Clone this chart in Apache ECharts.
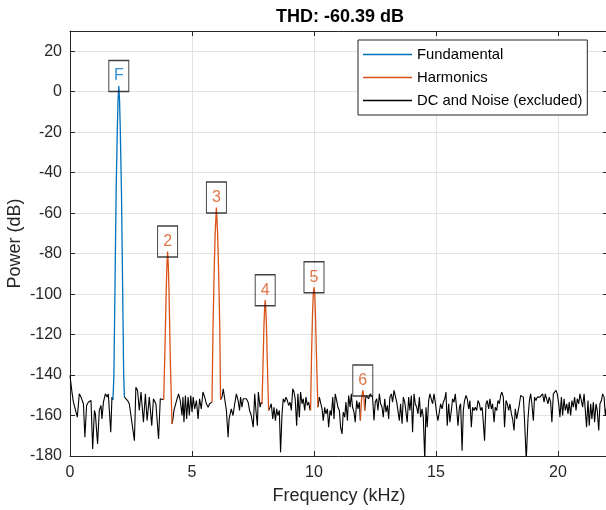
<!DOCTYPE html>
<html>
<head>
<meta charset="utf-8">
<script src="https://cdn.jsdelivr.net/npm/echarts@6/dist/echarts.min.js"></script>
<style>
html,body{margin:0;padding:0;background:#fff;}
#chart{width:606px;height:510px;}
</style>
</head>
<body>
<div id="chart"></div>
<script>
// ---- Data ----
var titleText = 'THD: -60.39 dB';
var xTicks = [0, 5, 10, 15, 20];
var yTicks = [-180, -160, -140, -120, -100, -80, -60, -40, -20, 0, 20];

// Fundamental (kHz, dB)
var fundFreq  = [1.76, 1.80, 1.84, 1.89, 1.94, 1.97, 2.00, 2.03, 2.06, 2.11, 2.16, 2.20, 2.23];
var fundPower = [-152.2, -140, -100, -50, -18, -4, 2.8, -4, -18, -50, -100, -140, -150.9];

// Harmonics 2..6 (null separates the peaks)
var harmFreq = [
  3.84, 3.89, 3.94, 3.97, 4.00, 4.03, 4.06, 4.11, 4.18, null,
  5.82, 5.86, 5.91, 5.95, 6.00, 6.05, 6.09, 6.14, 6.17, null,
  7.87, 7.91, 7.95, 7.98, 8.00, 8.02, 8.05, 8.09, 8.14, null,
  9.86, 9.90, 9.94, 9.97, 10.00, 10.03, 10.06, 10.10, 10.16, null,
  11.90, 11.95, 12.00, 12.04, 12.08
];
var harmPower = [
  -152.2, -128, -100, -86, -79, -86, -100, -132, -164.1, null,
  -153.4, -118, -88, -70, -57.2, -70, -88, -118, -152.2, null,
  -154.2, -135, -115, -106, -103, -106, -115, -135, -157.5, null,
  -157.5, -130, -110, -100, -96.6, -100, -110, -130, -155.9, null,
  -162.5, -152, -147.6, -150, -157.5
];

// DC and noise (null separates the gaps under the peaks)
var noiseFreq = [
  0, 0.08, 0.14, 0.22, 0.30, 0.38, 0.45, 0.49, 0.55, 0.61, 0.68, 0.75, 0.82, 0.86, 0.93, 1.00, 1.04, 1.13, 1.20, 1.27, 1.31, 1.37, 1.45, 1.52, 1.57, 1.67, 1.72, 1.76, null,
  2.23, 2.36, 2.43, 2.64, 2.70, 2.77, 2.84, 2.91, 3.01, 3.09, 3.16, 3.25, 3.35, 3.42, 3.52, 3.63, 3.70, 3.77, 3.84, null,
  4.18, 4.22, 4.26, 4.32, 4.39, 4.45, 4.52, 4.59, 4.63, 4.67, 4.73, 4.78, 4.84, 4.89, 4.95, 5.00, 5.05, 5.11, 5.18, 5.25, 5.31, 5.38, 5.45, 5.52, 5.59, 5.66, 5.72, 5.79, 5.82, null,
  6.17, 6.23, 6.28, 6.34, 6.41, 6.48, 6.52, 6.56, 6.61, 6.68, 6.75, 6.82, 6.89, 6.95, 6.99, 7.05, 7.10, 7.16, 7.23, 7.30, 7.36, 7.43, 7.51, 7.57, 7.62, 7.68, 7.72, 7.79, 7.84, 7.87, null,
  8.14, 8.20, 8.25, 8.31, 8.36, 8.42, 8.47, 8.52, 8.58, 8.63, 8.69, 8.74, 8.80, 8.85, 8.91, 8.96, 9.02, 9.07, 9.13, 9.18, 9.23, 9.29, 9.34, 9.40, 9.45, 9.51, 9.56, 9.62, 9.67, 9.73, 9.78, 9.84, 9.86, null,
  10.16, 10.22, 10.27, 10.33, 10.38, 10.44, 10.49, 10.55, 10.60, 10.66, 10.71, 10.77, 10.82, 10.87, 10.93, 10.98, 11.04, 11.09, 11.15, 11.20, 11.26, 11.31, 11.37, 11.42, 11.48, 11.53, 11.58, 11.64, 11.69, 11.75, 11.80, 11.86, 11.90, null,
  12.08, 12.13, 12.19, 12.24, 12.30, 12.35, 12.40, 12.46, 12.51, 12.57, 12.62, 12.68, 12.73, 12.79, 12.84, 12.90, 12.95, 13.01, 13.06, 13.11, 13.17, 13.22, 13.28, 13.33, 13.39, 13.44, 13.50, 13.55, 13.61, 13.66, 13.72, 13.77, 13.82, 13.88, 13.93, 13.99,
  14.04, 14.10, 14.15, 14.21, 14.26, 14.32, 14.37, 14.43, 14.48, 14.54, 14.59, 14.64, 14.70, 14.75, 14.81, 14.86, 14.92, 14.97, 15.03, 15.08, 15.14, 15.19, 15.25, 15.30, 15.36, 15.41, 15.46, 15.52, 15.57, 15.63, 15.68, 15.74, 15.79, 15.85, 15.90, 15.96,
  16.01, 16.07, 16.12, 16.17, 16.23, 16.28, 16.34, 16.39, 16.45, 16.50, 16.56, 16.61, 16.67, 16.72, 16.78, 16.83, 16.89, 16.94, 16.99, 17.05, 17.10, 17.16, 17.21, 17.27, 17.32, 17.38, 17.43, 17.49, 17.54, 17.60, 17.65, 17.70, 17.76, 17.81, 17.87, 17.92, 17.98,
  18.03, 18.09, 18.14, 18.20, 18.25, 18.31, 18.36, 18.42, 18.47, 18.52, 18.58, 18.63, 18.70, 18.77, 18.83, 18.88, 18.93, 18.99, 19.04, 19.10, 19.15, 19.21, 19.26, 19.32, 19.37, 19.43, 19.48, 19.54, 19.59, 19.64, 19.70, 19.75, 19.81, 19.86, 19.92, 19.97,
  20.03, 20.08, 20.14, 20.19, 20.25, 20.30, 20.36, 20.41, 20.46, 20.52, 20.57, 20.63, 20.68, 20.74, 20.79, 20.85, 20.90, 20.96, 21.01, 21.07, 21.12, 21.17, 21.23, 21.28, 21.34, 21.39, 21.45, 21.50, 21.56, 21.61, 21.67, 21.72, 21.78, 21.83, 21.89, 21.94, 22.00
];
var noisePower = [
  -140.2, -148.4, -153.4, -154.2, -160.8, -149.3, -150.9, -150.1, -154.2, -170.7, -155.0, -153.4, -154.2, -152.6, -176.5, -157.5, -159.2, -174.0, -157.5, -155.0, -161.7, -153.4, -149.3, -150.9, -149.3, -168.3, -150.9, -152.2, null,
  -150.9, -152.6, -154.2, -172.4, -146.0, -147.6, -157.5, -148.4, -163.3, -149.3, -162.5, -150.9, -165.0, -151.7, -154.2, -171.6, -151.7, -152.6, -152.2, null,
  -164.1, -161.7, -157.5, -156.7, -151.7, -149.3, -152.6, -160.0, -150.9, -163.3, -150.1, -161.7, -150.9, -160.0, -150.1, -158.3, -150.9, -156.7, -152.6, -161.7, -151.7, -156.7, -148.4, -150.9, -154.2, -155.9, -154.2, -153.4, -153.4, null,
  -152.2, -150.9, -146.8, -147.6, -157.5, -170.7, -161.7, -162.5, -156.7, -160.0, -154.2, -149.3, -152.6, -157.5, -150.9, -155.9, -151.7, -152.6, -151.7, -153.4, -157.5, -160.0, -165.8, -149.3, -157.5, -165.0, -148.4, -155.9, -153.4, -154.2, null,
  -157.5, -155.9, -154.2, -161.7, -155.9, -162.5, -156.7, -160.0, -157.5, -178.2, -159.2, -151.7, -153.4, -150.9, -152.6, -155.0, -153.4, -157.5, -146.8, -148.4, -151.7, -165.0, -149.3, -160.8, -148.4, -154.2, -151.7, -157.5, -150.9, -155.0, -153.4, -157.5, -157.5, null,
  -155.9, -150.9, -150.1, -156.7, -162.5, -155.9, -159.2, -156.7, -165.8, -157.5, -160.0, -150.9, -161.7, -149.3, -152.6, -155.9, -157.5, -165.8, -169.1, -158.3, -160.8, -153.4, -162.5, -150.1, -155.9, -149.3, -155.9, -158.3, -163.3, -152.6, -156.7, -153.4, -162.5, null,
  -157.5, -150.1, -150.9, -151.7, -149.3, -148.4, -150.9, -162.5, -153.4, -151.7, -157.5, -149.3, -154.2, -155.9, -160.8, -151.7, -158.3, -155.0, -161.7, -150.9, -149.3, -153.4, -147.6, -146.8, -153.4, -152.6, -162.5, -154.2, -164.1, -150.9, -153.4, -154.2, -163.3, -150.9, -157.5, -150.1,
  -168.3, -149.3, -154.2, -155.9, -159.2, -150.9, -160.8, -156.7, -160.8, -182.0, -155.9, -165.8, -152.6, -149.3, -150.1, -154.2, -149.3, -153.4, -159.2, -162.5, -163.3, -154.2, -156.7, -153.4, -151.7, -148.4, -165.0, -154.2, -163.3, -157.5, -151.7, -153.4, -149.3, -156.7, -165.0, -155.9,
  -154.2, -177.4, -157.5, -152.6, -150.1, -151.7, -156.7, -152.6, -165.8, -155.9, -157.5, -155.9, -157.5, -152.6, -154.2, -157.5, -155.9, -163.3, -172.4, -154.2, -152.6, -156.7, -151.7, -156.7, -154.2, -163.3, -155.9, -157.5, -152.6, -154.2, -150.1, -148.4, -150.9, -165.8, -152.6, -154.2, -157.5,
  -154.2, -159.2, -161.7, -167.4, -156.7, -161.7, -158.3, -154.2, -150.1, -149.3, -150.9, -162.5, -182.0, -161.7, -152.6, -149.3, -154.2, -162.5, -150.9, -152.6, -150.9, -151.7, -150.9, -150.1, -149.3, -153.4, -149.3, -150.1, -154.2, -150.9, -153.4, -163.3, -149.3, -148.4, -147.6, -149.3,
  -154.2, -160.8, -150.9, -160.0, -151.7, -157.5, -154.2, -159.2, -153.4, -160.0, -152.6, -155.9, -150.9, -157.5, -151.7, -154.2, -149.3, -152.6, -155.9, -149.3, -157.5, -165.8, -152.6, -165.0, -154.2, -161.7, -153.4, -163.3, -154.2, -157.5, -167.4, -154.2, -152.6, -149.3, -150.9, -160.0, -155.0
];

// Peak labels
var labelText  = ['F', '2', '3', '4', '5', '6'];
var labelFreq  = [2, 4, 6, 8, 10, 12];
var labelPower = [2.8, -79, -57.2, -103, -96.6, -147.6];

// ---- Build ----
function pairs(fx, py) {
  var out = [];
  for (var i = 0; i < fx.length; i++) {
    if (fx[i] === null || py[i] === null) { out.push(['-', '-']); }
    else { out.push([fx[i], py[i]]); }
  }
  return out;
}

var FONT = 'Liberation Sans';
var AX = '#262626';
var BLUE = '#0072BD';
var ORANGE = '#D95319';

var labelData = labelText.map(function (t, i) {
  return {
    name: t,
    value: [labelFreq[i], labelPower[i]],
    label: { color: i === 0 ? BLUE : ORANGE }
  };
});

var chart = echarts.init(document.getElementById('chart'), null, { renderer: 'canvas' });

var axisCommon = {
  type: 'value',
  axisLine: { show: true, onZero: false, lineStyle: { color: AX, width: 1 } },
  axisTick: { show: true, inside: true, length: 5, lineStyle: { color: AX } }
};

chart.setOption({
  animation: false,
  backgroundColor: '#fff',
  title: {
    text: titleText,
    left: 271, top: 3,
    textStyle: { fontFamily: FONT, fontSize: 18, fontWeight: 'bold', color: '#000' }
  },
  grid: { left: 70, right: -2, top: 31, bottom: 54, containLabel: false, outerBoundsMode: 'none' },
  legend: {
    data: ['Fundamental', 'Harmonics', 'DC and Noise (excluded)'],
    orient: 'vertical',
    left: 358, top: 40,
    padding: [7, 5, 7, 5],
    itemGap: 8,
    itemWidth: 49,
    itemHeight: 1.6,
    icon: 'rect',
    backgroundColor: '#fff',
    borderColor: AX,
    borderWidth: 1,
    borderRadius: 0,
    selectedMode: false,
    textStyle: { fontFamily: FONT, fontSize: 14.8, color: '#000', lineHeight: 14 }
  },
  xAxis: [
    Object.assign({}, axisCommon, {
      min: 0, max: 22.05, interval: 5,
      position: 'bottom',
      name: 'Frequency (kHz)', nameLocation: 'middle', nameGap: 31, nameMoveOverlap: false,
      nameTextStyle: { fontFamily: FONT, fontSize: 18, color: AX },
      axisLabel: { show: true, fontFamily: FONT, fontSize: 16, color: AX, margin: 9, showMaxLabel: false,
        formatter: function (v) { return xTicks.indexOf(v) >= 0 ? String(v) : ''; } },
      splitLine: { show: true, lineStyle: { color: '#e3e3e3', width: 1 } }
    }),
    Object.assign({}, axisCommon, {
      min: 0, max: 22.05, interval: 5,
      position: 'top',
      axisLabel: { show: false },
      splitLine: { show: false }
    })
  ],
  yAxis: [
    Object.assign({}, axisCommon, {
      min: -180, max: 30, interval: 20,
      position: 'left',
      name: 'Power (dB)', nameLocation: 'middle', nameGap: 46, nameRotate: 90, nameMoveOverlap: false,
      nameTextStyle: { fontFamily: FONT, fontSize: 18, color: AX },
      axisLabel: { show: true, fontFamily: FONT, fontSize: 16, color: AX, margin: 8, showMaxLabel: false,
        formatter: function (v) { return yTicks.indexOf(v) >= 0 ? String(v) : ''; } },
      splitLine: { show: true, lineStyle: { color: '#e3e3e3', width: 1 } }
    }),
    Object.assign({}, axisCommon, {
      min: -180, max: 30, interval: 20,
      position: 'right',
      axisLabel: { show: false },
      splitLine: { show: false }
    })
  ],
  series: [
    {
      name: 'DC and Noise (excluded)', type: 'line', symbol: 'none', z: 2,
      data: pairs(noiseFreq, noisePower), connectNulls: false, clip: true,
      lineStyle: { color: '#000', width: 1.1 }, itemStyle: { color: '#000' }
    },
    {
      name: 'Fundamental', type: 'line', symbol: 'none', z: 3,
      data: pairs(fundFreq, fundPower), clip: true,
      lineStyle: { color: BLUE, width: 1.3 }, itemStyle: { color: BLUE }
    },
    {
      name: 'Harmonics', type: 'line', symbol: 'none', z: 3,
      data: pairs(harmFreq, harmPower), connectNulls: false, clip: true,
      lineStyle: { color: ORANGE, width: 1.3 }, itemStyle: { color: ORANGE }
    },
    {
      name: 'peakLabels', type: 'scatter', z: 4, silent: true,
      symbol: 'rect', symbolSize: [20, 31], symbolOffset: [0, -10],
      itemStyle: { color: 'rgba(255,255,255,0)', borderColor: '#111', borderWidth: 1.2 },
      label: { show: true, position: 'inside', formatter: '{b}', fontFamily: FONT, fontSize: 16 },
      data: labelData
    }
  ]
});
</script>
</body>
</html>
